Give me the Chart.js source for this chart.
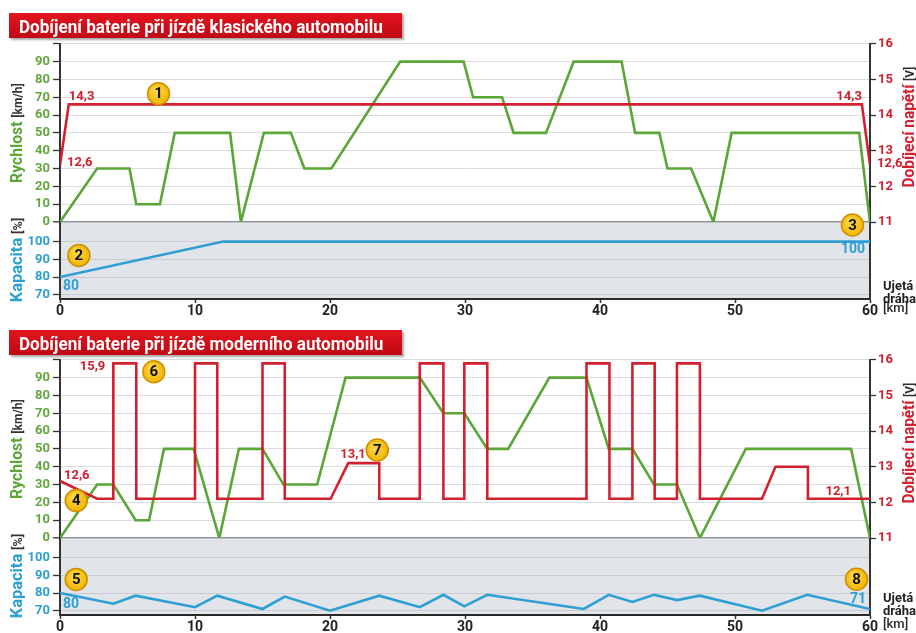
<!DOCTYPE html>
<html lang="cs">
<head>
<meta charset="utf-8">
<title>Dobíjení baterie při jízdě</title>
<script src="https://cdn.jsdelivr.net/npm/chart.js@4.4.1/dist/chart.umd.min.js"></script>
<style>
  html, body { margin: 0; padding: 0; background: #fff; }
  #page { position: relative; width: 916px; height: 633px; overflow: hidden; font-family: Roboto, "Liberation Sans", sans-serif; }
  canvas { position: absolute; left: 0; }
  .banner { position: absolute; left: 9px; width: 393px; height: 25px;
            background: linear-gradient(#e3141f, #bf0914); box-shadow: 2px 2px 2px rgba(0,0,0,.35); }
  .banner span { position: absolute; left: 10px; top: 50%; color: #fff; font-weight: 700; font-size: 19px;
                 white-space: nowrap; line-height: 1; transform-origin: 0 50%; }
  .vtitle { position: absolute; white-space: nowrap; line-height: 1; font-weight: 700; }
  .vtitle .unit { color: #333; font-size: 13px; }
  .km { position: absolute; left: 883px; color: #222; font-size: 13px; font-weight: 700; line-height: 14px; height: 14px; margin-top: -7px; z-index: 5; }
</style>
</head>
<body>
<div id="page">
  <canvas id="capTop" width="916" height="109" style="top:212px"></canvas>
  <canvas id="mainTop" width="916" height="205" style="top:33px"></canvas>
  <canvas id="capBot" width="916" height="105" style="top:528px"></canvas>
  <canvas id="mainBot" width="916" height="205" style="top:349px"></canvas>

  <div class="banner" style="top:13px"><span class="fit" data-len="364">Dobíjení baterie při jízdě klasického automobilu</span></div>
  <div class="banner" style="top:330px"><span class="fit" data-len="364">Dobíjení baterie při jízdě moderního automobilu</span></div>

  <div class="vtitle" data-len="100" style="left:16px;top:133px"><span style="color:#5aa637;font-size:17px">Rychlost</span> <span class="unit">[km/h]</span></div>
  <div class="vtitle" data-len="85" style="left:16px;top:260px"><span style="color:#2e9fd4;font-size:17px">Kapacita</span> <span class="unit">[%]</span></div>
  <div class="vtitle" data-len="121" style="left:908px;top:127px"><span style="color:#d3202f;font-size:17px">Dobíjecí napětí</span> <span class="unit">[V]</span></div>
  <div class="km" style="top:286px">Ujetá</div>
  <div class="km" style="top:299px">dráha</div>

  <div class="vtitle" data-len="100" style="left:16px;top:449px"><span style="color:#5aa637;font-size:17px">Rychlost</span> <span class="unit">[km/h]</span></div>
  <div class="vtitle" data-len="85" style="left:16px;top:576px"><span style="color:#2e9fd4;font-size:17px">Kapacita</span> <span class="unit">[%]</span></div>
  <div class="vtitle" data-len="121" style="left:908px;top:443px"><span style="color:#d3202f;font-size:17px">Dobíjecí napětí</span> <span class="unit">[V]</span></div>
  <div class="km" style="top:598px">Ujetá</div>
  <div class="km" style="top:611px">dráha</div>
</div>

<script>
// Axis ticks
const kmTicks    = [0, 10, 20, 30, 40, 50, 60];
const speedTicks = [0, 10, 20, 30, 40, 50, 60, 70, 80, 90, 100];
const voltTicks  = [11, 12, 13, 14, 15, 16];
const capTicks   = [70, 80, 90, 100];

// Classic car: speed profile over distance
const topKm    = [0, 2.75, 5.15, 5.65, 7.4, 8.5, 12.6, 13.4, 15.1, 17.1, 18.1, 20.1, 25.2, 29.9, 30.6, 32.75, 33.6, 36.0, 38.05, 41.6, 42.6, 44.4, 45.0, 46.75, 48.4, 49.75, 59.2, 60];
const topSpeed = [0, 30, 30, 10, 10, 50, 50, 0, 50, 50, 30, 30, 90, 90, 70, 70, 50, 50, 90, 90, 50, 50, 30, 30, 0, 50, 50, 0];
// Classic car: charging voltage
const topVoltKm = [0, 0.65, 59.4, 60];
const topVolt   = [12.6, 14.3, 14.3, 12.6];
// Classic car: battery capacity
const topCapKm = [0, 12.1, 60];
const topCap   = [80, 100, 100];

// Modern car: speed profile over distance
const botKm    = [0, 2.75, 3.95, 5.6, 6.6, 7.7, 9.9, 11.8, 13.25, 15.0, 16.55, 19.05, 21.15, 26.65, 28.4, 29.95, 31.65, 33.2, 36.25, 39.0, 40.65, 42.4, 44.0, 45.7, 47.4, 50.8, 58.6, 60];
const botSpeed = [0, 30, 30, 10, 10, 50, 50, 0, 50, 50, 30, 30, 90, 90, 70, 70, 50, 50, 90, 90, 50, 50, 30, 30, 0, 50, 50, 0];
// Modern car: charging voltage (recuperation pulses)
const botVoltKm = [0, 2.75, 3.95, 3.95, 5.65, 5.65, 10.0, 10.0, 11.65, 11.65, 15.0, 15.0, 16.65, 16.65, 20.05, 21.35, 23.65, 23.65,
                   26.65, 26.65, 28.4, 28.4, 29.95, 29.95, 31.65, 31.65, 39.0, 39.0, 40.7, 40.7, 42.4, 42.4, 44.05, 44.05,
                   45.7, 45.7, 47.4, 47.4, 52.0, 53.0, 55.4, 55.4, 60];
const botVolt   = [12.6, 12.1, 12.1, 15.9, 15.9, 12.1, 12.1, 15.9, 15.9, 12.1, 12.1, 15.9, 15.9, 12.1, 12.1, 13.1, 13.1, 12.1,
                   12.1, 15.9, 15.9, 12.1, 12.1, 15.9, 15.9, 12.1, 12.1, 15.9, 15.9, 12.1, 12.1, 15.9, 15.9, 12.1,
                   12.1, 15.9, 15.9, 12.1, 12.1, 13.0, 13.0, 12.1, 12.1];
// Modern car: battery capacity
const botCapKm = [0, 3.95, 5.6, 10.0, 11.65, 15.0, 16.65, 20.0, 23.65, 26.65, 28.4, 29.95, 31.65, 38.8, 40.65, 42.4, 44.0, 45.7, 47.4, 52.0, 55.35, 60];
const botCap   = [80, 74, 78.5, 72, 78.5, 71, 78, 70, 78.5, 72, 79, 72.5, 79, 71, 79, 75, 79, 76, 78.5, 70, 79, 71];

const GREEN = '#5aa637', GREEN_T = '#62a83c', RED = '#d3202f', BLUE = '#2e9fd4', AXIS = '#333333';
const FONT = 'Roboto, "Liberation Sans", sans-serif';

const pts = (xs, ys) => xs.map((x, i) => ({ x, y: ys[i] }));
const dec = v => v.toFixed(1).replace('.', ',');
const fixedTicks = list => scale => { scale.ticks = list.map(v => ({ value: v })); };

function drawBadge(ctx, x, y, label) {
  ctx.save();
  ctx.beginPath();
  ctx.arc(x, y, 11, 0, Math.PI * 2);
  const g = ctx.createRadialGradient(x - 3, y - 4, 1, x, y, 12);
  g.addColorStop(0, '#ffd84a');
  g.addColorStop(1, '#f0b400');
  ctx.fillStyle = g;
  ctx.fill();
  ctx.lineWidth = 1.5;
  ctx.strokeStyle = '#cf8f00';
  ctx.stroke();
  ctx.fillStyle = '#111';
  ctx.font = 'bold 15px ' + FONT;
  ctx.textAlign = 'center';
  ctx.textBaseline = 'middle';
  ctx.fillText(label, x, y + 1);
  ctx.restore();
}

// Numbered callouts first, then value labels, all placed in data coordinates
const callouts = {
  id: 'callouts',
  afterDatasetsDraw(chart, args, opts) {
    const ctx = chart.ctx;
    const xs = chart.scales.x;
    const items = (opts.items || []).slice().sort((a, b) => (b.badge ? 1 : 0) - (a.badge ? 1 : 0));
    items.forEach(it => {
      const ys = chart.scales[it.axis];
      const px = xs.getPixelForValue(it.x) + (it.dx || 0);
      const py = ys.getPixelForValue(it.y) + (it.dy || 0);
      if (it.badge) {
        drawBadge(ctx, px, py, it.badge);
        return;
      }
      ctx.save();
      ctx.font = 'bold ' + (it.size || 13) + 'px ' + FONT;
      ctx.fillStyle = it.color;
      ctx.textAlign = it.align || 'left';
      ctx.textBaseline = 'middle';
      ctx.fillText(it.text, px, py);
      ctx.restore();
    });
  }
};

// Grey background of the capacity strip
const plotBg = {
  id: 'plotBg',
  beforeDraw(chart) {
    const { ctx, chartArea: a } = chart;
    ctx.save();
    ctx.fillStyle = '#e1e4e9';
    ctx.fillRect(a.left, a.top, a.right - a.left, a.bottom - a.top);
    ctx.restore();
  }
};

// Unit of the distance axis, written after the last tick label
const kmUnit = {
  id: 'kmUnit',
  afterDraw(chart) {
    const xs = chart.scales.x;
    const ctx = chart.ctx;
    ctx.save();
    ctx.font = '500 13px ' + FONT;
    ctx.fillStyle = '#2a2a2a';
    ctx.textAlign = 'left';
    ctx.textBaseline = 'middle';
    ctx.fillText('[km]', xs.right + 13, xs.top + 10);
    ctx.restore();
  }
};

const lineStyle = color => ({ borderColor: color, borderWidth: 2.6, pointRadius: 0, tension: 0, fill: false, borderJoinStyle: 'miter' });

function mainChart(id, speedKm, speed, voltKm, volt, items) {
  return new Chart(document.getElementById(id), {
    type: 'line',
    data: {
      datasets: [
        Object.assign({ data: pts(voltKm, volt), yAxisID: 'yVolt' }, lineStyle(RED)),
        Object.assign({ data: pts(speedKm, speed), yAxisID: 'ySpeed' }, lineStyle(GREEN))
      ]
    },
    options: {
      responsive: false, animation: false, events: [],
      layout: { padding: { top: 10, bottom: 16, left: 0, right: 0 } },
      plugins: { legend: { display: false }, tooltip: { enabled: false }, callouts: { items } },
      scales: {
        x: { type: 'linear', min: 0, max: 60, display: false },
        ySpeed: {
          position: 'left', min: 0, max: 100,
          afterFit: s => { s.width = 60; },
          afterBuildTicks: fixedTicks(speedTicks),
          ticks: { color: GREEN_T, padding: 3, autoSkip: false, font: { family: FONT, weight: 'bold', size: 13 },
                   callback: v => (v === 100 ? '' : String(v)) },
          grid: {
            color: c => (c.tick && c.tick.value === 0 ? '#8b9095' : '#d9dde2'),
            lineWidth: c => (c.tick && c.tick.value === 0 ? 1.6 : 1),
            tickColor: AXIS, tickLength: 7, tickWidth: 1.3
          },
          border: { display: true, color: AXIS, width: 2 }
        },
        yVolt: {
          position: 'right', min: 11, max: 16,
          afterFit: s => { s.width = 46; },
          afterBuildTicks: fixedTicks(voltTicks),
          ticks: { color: RED, padding: 2, autoSkip: false, font: { family: FONT, weight: 'bold', size: 13 } },
          grid: { drawOnChartArea: false, tickColor: AXIS, tickLength: 6, tickWidth: 1.3 },
          border: { display: true, color: AXIS, width: 2 }
        }
      }
    },
    plugins: [callouts]
  });
}

// Capacity strip is 77 px tall; the distance axis takes the rest of the canvas
function axisHeightLeft(scale) {
  return scale.chart.height - 10 - 77;
}

function capChart(id, capKm, cap, items) {
  return new Chart(document.getElementById(id), {
    type: 'line',
    data: { datasets: [Object.assign({ data: pts(capKm, cap), yAxisID: 'yCap' }, lineStyle(BLUE))] },
    options: {
      responsive: false, animation: false, events: [],
      layout: { padding: { top: 10, bottom: 0, left: 0, right: 0 } },
      plugins: { legend: { display: false }, tooltip: { enabled: false }, callouts: { items } },
      scales: {
        x: {
          type: 'linear', min: 0, max: 60, position: 'bottom',
          afterFit: s => { s.height = axisHeightLeft(s); },
          afterBuildTicks: fixedTicks(kmTicks),
          ticks: { color: '#222', padding: 0, maxRotation: 0, autoSkip: false, font: { family: FONT, weight: 'bold', size: 14 } },
          grid: { drawOnChartArea: false, tickColor: AXIS, tickLength: 4, tickWidth: 1.5 },
          border: { display: true, color: '#2a2a2a', width: 2 }
        },
        yCap: {
          position: 'left', min: 67.6, max: 110.6,
          afterFit: s => { s.width = 60; },
          afterBuildTicks: fixedTicks(capTicks),
          ticks: { color: BLUE, padding: 3, autoSkip: false, font: { family: FONT, weight: 'bold', size: 13 } },
          grid: { color: '#c9cdd3', tickColor: AXIS, tickLength: 7, tickWidth: 1.3 },
          border: { display: true, color: AXIS, width: 2 }
        },
        yEdge: {
          position: 'right',
          afterFit: s => { s.width = 46; },
          ticks: { display: false },
          grid: { drawOnChartArea: false, drawTicks: false },
          border: { display: true, color: AXIS, width: 2 }
        }
      }
    },
    plugins: [plotBg, callouts, kmUnit]
  });
}

// Classic car
mainChart('mainTop', topKm, topSpeed, topVoltKm, topVolt, [
  { x: topVoltKm[0], y: topVolt[0], axis: 'yVolt', dx: 7, dy: -2, text: dec(topVolt[0]), color: RED },
  { x: topVoltKm[1], y: topVolt[1], axis: 'yVolt', dx: 0, dy: -8, text: dec(topVolt[1]), color: RED },
  { x: topVoltKm[2], y: topVolt[2], axis: 'yVolt', dx: 0, dy: -8, text: dec(topVolt[2]), color: RED, align: 'right' },
  { x: topVoltKm[3], y: topVolt[3], axis: 'yVolt', dx: 7, dy: -1, text: dec(topVolt[3]), color: RED },
  { x: 7.3, y: 72, axis: 'ySpeed', badge: '1' },
  { x: 58.7, y: -1.7, axis: 'ySpeed', badge: '3' }
]);
capChart('capTop', topCapKm, topCap, [
  { x: topCapKm[0], y: topCap[0], axis: 'yCap', dx: 3, dy: 9, text: String(topCap[0]), color: BLUE, size: 14 },
  { x: topCapKm[2], y: topCap[2], axis: 'yCap', dx: -5, dy: 8, text: String(topCap[2]), color: BLUE, size: 14, align: 'right' },
  { x: 1.4, y: 92.2, axis: 'yCap', badge: '2' }
]);

// Modern car
mainChart('mainBot', botKm, botSpeed, botVoltKm, botVolt, [
  { x: botVoltKm[0], y: botVolt[0], axis: 'yVolt', dx: 4, dy: -5, text: dec(botVolt[0]), color: RED },
  { x: botVoltKm[3], y: botVolt[3], axis: 'yVolt', dx: -8, dy: 3, text: dec(botVolt[3]), color: RED, align: 'right' },
  { x: botVoltKm[15], y: botVolt[15], axis: 'yVolt', dx: -8, dy: -8, text: dec(botVolt[15]), color: RED },
  { x: botVoltKm[42], y: botVolt[42], axis: 'yVolt', dx: -19, dy: -7, text: dec(botVolt[42]), color: RED, align: 'right' },
  { x: 1.2, y: 21, axis: 'ySpeed', badge: '4' },
  { x: 6.95, y: 93.3, axis: 'ySpeed', badge: '6' },
  { x: 23.5, y: 49.4, axis: 'ySpeed', badge: '7' }
]);
capChart('capBot', botCapKm, botCap, [
  { x: botCapKm[0], y: botCap[0], axis: 'yCap', dx: 3, dy: 11, text: String(botCap[0]), color: BLUE, size: 14 },
  { x: botCapKm[21], y: botCap[21], axis: 'yCap', dx: -4, dy: -9, text: String(botCap[21]), color: BLUE, size: 14, align: 'right' },
  { x: 1.2, y: 87.7, axis: 'yCap', badge: '5' },
  { x: 59.0, y: 87.8, axis: 'yCap', badge: '8' }
]);

// Fit the HTML headings and rotated axis titles to their lengths
document.querySelectorAll('.fit').forEach(el => {
  const k = (+el.dataset.len) / el.offsetWidth;
  el.style.transform = 'translateY(-50%) scaleX(' + k.toFixed(3) + ')';
});
document.querySelectorAll('.vtitle').forEach(el => {
  const k = (+el.dataset.len) / el.offsetWidth;
  el.style.transform = 'translate(-50%, -50%) rotate(-90deg) scaleX(' + k.toFixed(3) + ')';
});
</script>
</body>
</html>
